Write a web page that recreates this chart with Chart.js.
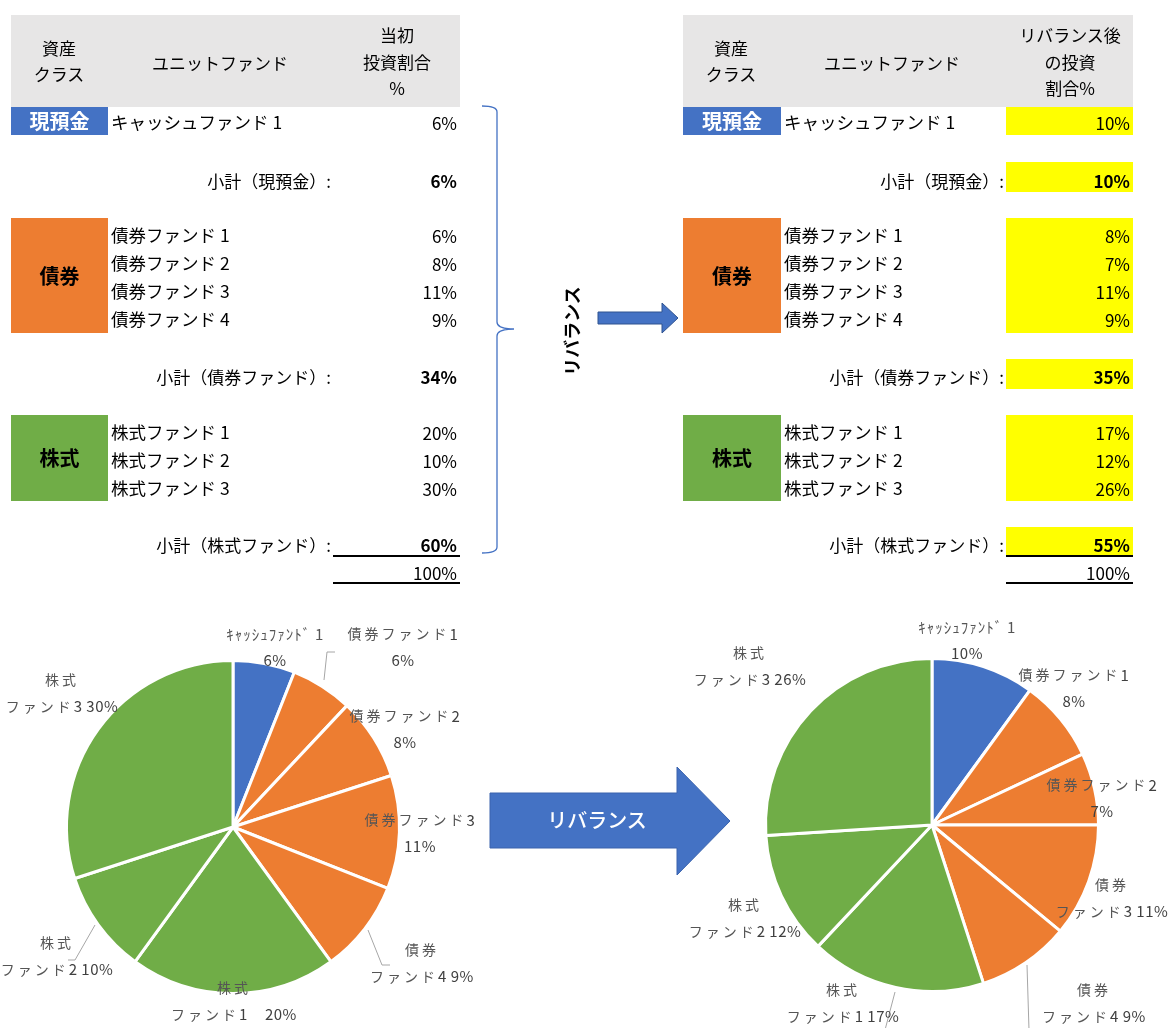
<!DOCTYPE html>
<html lang="ja">
<head>
<meta charset="utf-8">
<title>リバランス</title>
<script src="https://cdn.jsdelivr.net/npm/chart.js@4.4.1/dist/chart.umd.min.js"></script>
<style>
  html, body { margin: 0; padding: 0; background: #fff; }
  #page { position: relative; width: 1170px; height: 1028px; overflow: hidden;
          font-family: "Noto Sans CJK JP", "Noto Sans", sans-serif; color: #000; }
  .t { position: absolute; white-space: nowrap; line-height: 1; font-size: 17px; }
  .blk { position: absolute; }
  canvas { position: absolute; }
  svg { position: absolute; left: 0; top: 0; }
</style>
</head>
<body>
<div id="page">
  <canvas id="pieBefore" width="480" height="418" style="left:0;top:610px"></canvas>
  <canvas id="pieAfter" width="490" height="418" style="left:680px;top:610px"></canvas>
  <svg width="1170" height="1028">
    <!-- brace -->
    <path d="M482,106 Q497,106 497,112 L497,322 Q497,329 514,329 Q497,329 497,336 L497,547 Q497,553 482,553"
          fill="none" stroke="#4472c4" stroke-width="1.3"/>
    <text x="571" y="331" transform="rotate(-90 571 331)" text-anchor="middle" dominant-baseline="central"
          font-family="Noto Sans CJK JP" font-weight="bold" font-size="18" fill="#000">リバランス</text>
    <polygon points="598,312 662,312 662,303 678,318 662,333 662,324 598,324"
             fill="#4472c4" stroke="#2f528f" stroke-width="1"/>
    <!-- big arrow -->
    <polygon points="490,793 677,793 677,767 730,821 677,875 677,848 490,848"
             fill="#4472c4" stroke="#3a63ad" stroke-width="1"/>
    <text x="597" y="819" text-anchor="middle" dominant-baseline="central"
          font-family="Noto Sans CJK JP" font-weight="500" font-size="20" fill="#fff">リバランス</text>
  </svg>
</div>
<script>
// ---- data ----
const assetClasses = ['現預金', '債券', '株式'];
const classColors = ['#4472c4', '#ed7d31', '#70ad47'];
const fundNames = ['キャッシュファンド 1', '債券ファンド 1', '債券ファンド 2', '債券ファンド 3', '債券ファンド 4',
                   '株式ファンド 1', '株式ファンド 2', '株式ファンド 3'];
const pieNames = ['ｷｬｯｼｭﾌｧﾝﾄﾞ 1', '債券ファンド1', '債券ファンド2', '債券ファンド3', '債券ファンド4',
                  '株式ファンド1', '株式ファンド2', '株式ファンド3'];
const fundNumbers = [1, 1, 2, 3, 4, 1, 2, 3];
const classOfFund = [0, 1, 1, 1, 1, 2, 2, 2];
const initialPct = [6, 6, 8, 11, 9, 20, 10, 30];
const rebalancedPct = [10, 8, 7, 11, 9, 17, 12, 26];
const subtotalLabels = ['小計（現預金）:', '小計（債券ファンド）:', '小計（株式ファンド）:'];

// ---- table layout ----
const fundRowY = [122, 235, 263, 291, 319, 432, 460, 488];
const subtotalRowY = [180, 376, 544];
const totalRowY = 572;
const classBoxY = [[107, 135], [218, 333], [415, 501]];
const subtotalBandY = [[162, 192], [359, 389], [527, 555]];

const page = document.getElementById('page');

function addText(x, y, html, align, style) {
  const d = document.createElement('div');
  d.className = 't';
  d.innerHTML = html;
  d.style.left = x + 'px';
  d.style.top = y + 'px';
  const tx = align === 'right' ? '-100%' : align === 'center' ? '-50%' : '0';
  d.style.transform = 'translate(' + tx + ',-50%)';
  if (align === 'center') d.style.textAlign = 'center';
  Object.assign(d.style, style || {});
  page.appendChild(d);
}
function addBlock(x, y, w, h, color) {
  const d = document.createElement('div');
  d.className = 'blk';
  Object.assign(d.style, { left: x + 'px', top: y + 'px', width: w + 'px', height: h + 'px', background: color });
  page.appendChild(d);
}

function buildTable(g, values, headerLines) {
  addBlock(g.x0, 15, g.x1 - g.x0, 92, '#e7e6e6');
  addText(g.x0 + 48, 61, '資産<br>クラス', 'center', { lineHeight: '26px' });
  addText(g.unitX, 62, 'ユニットファンド', 'center');
  addText(g.headX, 62, headerLines.join('<br>'), 'center', { lineHeight: '26.5px' });

  if (g.highlight) {
    classBoxY.concat(subtotalBandY).forEach(([a, b]) => addBlock(g.colL, a, g.colR - g.colL, b - a, '#ffff00'));
  }
  classBoxY.forEach(([a, b], c) => {
    addBlock(g.x0, a, g.boxW, b - a, classColors[c]);
    addText(g.x0 + g.boxW / 2, (a + b) / 2, assetClasses[c], 'center',
      { fontWeight: 'bold', fontSize: '20px', color: c === 0 ? '#fff' : '#000' });
  });
  fundNames.forEach((name, i) => {
    addText(g.nameX, fundRowY[i], name, 'left', { fontSize: '17.5px' });
    addText(g.valRight, fundRowY[i], values[i] + '%', 'right');
  });
  subtotalLabels.forEach((lab, c) => {
    const sum = values.reduce((s, v, i) => s + (classOfFund[i] === c ? v : 0), 0);
    addText(g.subRight, subtotalRowY[c], lab, 'right');
    addText(g.valRight, subtotalRowY[c], sum + '%', 'right', { fontWeight: 'bold' });
  });
  const total = values.reduce((s, v) => s + v, 0);
  addText(g.valRight, totalRowY, total + '%', 'right');
  addBlock(g.colL, 555, g.colR - g.colL, 2, '#000');
  addBlock(g.colL, 582, g.colR - g.colL, 2, '#000');
}

buildTable({ x0: 11, x1: 460, boxW: 97, unitX: 220, headX: 397, nameX: 111, subRight: 331,
             valRight: 457, colL: 333, colR: 460, highlight: false },
           initialPct, ['当初', '投資割合', '%']);
buildTable({ x0: 683, x1: 1133, boxW: 98, unitX: 892, headX: 1070, nameX: 784, subRight: 1004,
             valRight: 1130, colL: 1006, colR: 1133, highlight: true },
           rebalancedPct, ['リバランス後', 'の投資', '割合%']);

// ---- pie label layout (offsets from pie centre) ----
const beforeLabelPos = [[42, -193], [170, -193], [172, -111], [187, -7], [189, 123], [1, 161], [-176, 116], [-171, -147]];
const beforeSplit = [false, false, false, false, true, true, true, true];
const beforeGap = [' ', ' ', ' ', ' ', ' ', '\u3000', ' ', ' '];
const beforeLeaders = [[[91, -147], [94, -175], [102, -175]],
                       [[135, 103], [149, 138], [157, 138]],
                       [[-138, 98], [-158, 133], [-165, 133]]];
const afterLabelPos = [[35, -198], [142, -150], [170, -40], [180, 60], [162, 165], [-89, 165], [-187, 80], [-182, -172]];
const afterSplit = [false, false, false, true, true, true, true, true];
const afterGap = [' ', ' ', ' ', ' ', ' ', ' ', ' ', ' '];
const afterLeaders = [[[-37, 167], [-47, 205]], [[95, 140], [97, 205]]];

function labelLines(values, split, gap) {
  return values.map((v, i) => split[i]
    ? [assetClasses[classOfFund[i]], 'ファンド' + fundNumbers[i] + gap[i] + v + '%']
    : [pieNames[i], v + '%']);
}

// per-character spacing: wide for full-width kana/kanji, tight otherwise
function charGap(ch) {
  const c = ch.charCodeAt(0);
  if (c >= 0xff61 && c <= 0xff9f) return 1;
  if (c >= 0x3000) return 3;
  return 0.5;
}

const sliceLabels = {
  id: 'sliceLabels',
  afterDraw(chart, args, opts) {
    const arc = chart.getDatasetMeta(0).data[0];
    const cx = arc.x, cy = arc.y;
    const ctx = chart.ctx;
    ctx.save();
    ctx.strokeStyle = '#a6a6a6';
    ctx.lineWidth = 1;
    opts.leaders.forEach(pts => {
      ctx.beginPath();
      pts.forEach(([dx, dy], k) => k ? ctx.lineTo(cx + dx, cy + dy) : ctx.moveTo(cx + dx, cy + dy));
      ctx.stroke();
    });
    ctx.textAlign = 'left';
    ctx.textBaseline = 'middle';
    opts.lines.forEach((lines, i) => {
      const [dx, dy] = opts.pos[i];
      lines.forEach((s, k) => {
        const chars = Array.from(s);
        const half = /[ｦ-ﾟ]/.test(s);
        const fonts = chars.map(ch => {
          const c = ch.charCodeAt(0);
          if (half) return '15px "Noto Sans CJK JP"';
          return c < 0x3000 ? '15px "Noto Sans CJK JP"' : '14px "Noto Sans CJK JP"';
        });
        const widths = chars.map((ch, j) => { ctx.font = fonts[j]; return ctx.measureText(ch).width + charGap(ch); });
        const total = widths.reduce((a, b) => a + b, 0);
        let x = cx + dx - total / 2;
        const y = cy + dy + k * 26.5;
        chars.forEach((ch, j) => {
          ctx.font = fonts[j];
          ctx.fillStyle = ch.charCodeAt(0) < 0x3000 && !half ? '#404040' : '#555555';
          ctx.fillText(ch, x, y);
          x += widths[j];
        });
      });
    });
    ctx.restore();
  }
};

function makePie(id, values, padding, pos, split, gap, leaders) {
  return new Chart(document.getElementById(id), {
    type: 'pie',
    data: {
      labels: fundNames,
      datasets: [{
        data: values,
        backgroundColor: classOfFund.map(c => classColors[c]),
        borderColor: '#ffffff',
        borderWidth: 3
      }]
    },
    options: {
      responsive: false,
      animation: false,
      layout: { padding: padding },
      plugins: {
        legend: { display: false },
        tooltip: { enabled: false },
        sliceLabels: { pos: pos, lines: labelLines(values, split, gap), leaders: leaders }
      }
    },
    plugins: [sliceLabels]
  });
}

makePie('pieBefore', initialPct, { left: 65, top: 49, right: 79, bottom: 33 },
        beforeLabelPos, beforeSplit, beforeGap, beforeLeaders);
makePie('pieAfter', rebalancedPct, { left: 84, top: 47, right: 70, bottom: 35 },
        afterLabelPos, afterSplit, afterGap, afterLeaders);
</script>
</body>
</html>
